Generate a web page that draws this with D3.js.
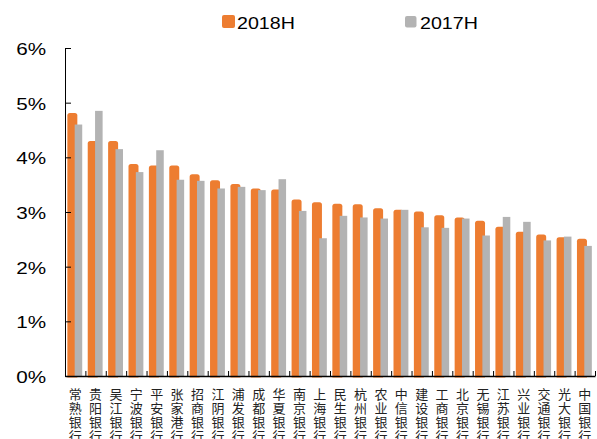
<!DOCTYPE html>
<html lang="zh">
<head>
  <meta charset="UTF-8">
  <title>银行指标 2018H vs 2017H</title>
  <script src="https://d3js.org/d3.v7.min.js"></script>
  <style>
    body { margin: 0; background: #fff; }
  </style>
</head>
<body>
<script>
  // categories and values (%)
  const banks = ["常熟银行", "贵阳银行", "吴江银行", "宁波银行", "平安银行", "张家港行", "招商银行",
    "江阴银行", "浦发银行", "成都银行", "华夏银行", "南京银行", "上海银行", "民生银行", "杭州银行",
    "农业银行", "中信银行", "建设银行", "工商银行", "北京银行", "无锡银行", "江苏银行", "兴业银行",
    "交通银行", "光大银行", "中国银行"];
  const v2018 = [4.81, 4.30, 4.30, 3.88, 3.85, 3.85, 3.69, 3.58, 3.51, 3.43, 3.41, 3.23, 3.18,
    3.15, 3.14, 3.07, 3.04, 3.01, 2.94, 2.90, 2.84, 2.73, 2.64, 2.59, 2.54, 2.51];
  const v2017 = [4.60, 4.85, 4.15, 3.73, 4.13, 3.59, 3.57, 3.43, 3.46, 3.40, 3.60, 3.02, 2.52,
    2.93, 2.90, 2.88, 3.04, 2.72, 2.71, 2.88, 2.57, 2.91, 2.82, 2.48, 2.55, 2.38];
  const yTicks = [0, 1, 2, 3, 4, 5, 6];
  const seriesNames = ["2018H", "2017H"];

  const W = 597, H = 439;
  const orange = "#ED7D31", grey = "#B3B3B3";
  const margin = { left: 65, right: 595, top: 48, bottom: 376 };

  const svg = d3.select("body").append("svg")
    .attr("width", W)
    .attr("height", H);

  const x = d3.scaleBand().domain(banks).range([margin.left, margin.right]).paddingInner(0).paddingOuter(0);
  const y = d3.scaleLinear().domain([0, 6]).range([margin.bottom, margin.top]);
  const bw = x.bandwidth();

  // bars: orange first, grey overlapping on top
  svg.append("g").selectAll("path")
    .data(banks)
    .enter().append("path")
    .attr("fill", orange)
    .attr("d", (d, i) => {
      const x0 = x(d) + bw * 0.115, w = bw * 0.49, r = 2.5;
      const y0 = y(v2018[i]), y1 = margin.bottom + 1.5;
      return `M${x0},${y1}V${y0 + r}Q${x0},${y0} ${x0 + r},${y0}H${x0 + w - r}Q${x0 + w},${y0} ${x0 + w},${y0 + r}V${y1}Z`;
    });

  svg.append("g").selectAll("rect")
    .data(banks)
    .enter().append("rect")
    .attr("x", d => x(d) + bw * 0.475)
    .attr("width", bw * 0.37)
    .attr("y", (d, i) => y(v2017[i]))
    .attr("height", (d, i) => margin.bottom - y(v2017[i]))
    .attr("fill", grey);

  // y axis, ticks pointing inward
  const yAxis = svg.append("g")
    .attr("transform", "translate(" + margin.left + ",0)")
    .call(d3.axisLeft(y).tickValues(yTicks).tickFormat(d => d + "%").tickSizeInner(-6).tickSizeOuter(0).tickPadding(19));
  yAxis.select(".domain").attr("stroke", "#000");
  yAxis.selectAll(".tick line").attr("stroke", "#000");
  yAxis.selectAll(".tick text")
    .attr("font-family", "'Liberation Sans', Arial, sans-serif")
    .attr("font-size", 16.8)
    .attr("fill", "#000")
    .attr("x", -19 / 1.23)
    .attr("dy", "0.38em")
    .attr("transform", "scale(1.23,1)");

  // x axis with boundary ticks pointing up
  const xi = d3.scaleLinear().domain([0, banks.length]).range([margin.left, margin.right]);
  const xAxis = svg.append("g")
    .attr("transform", "translate(0," + margin.bottom + ")")
    .call(d3.axisBottom(xi).tickValues(d3.range(banks.length + 1)).tickFormat("").tickSizeInner(-5).tickSizeOuter(0));
  xAxis.select(".domain").attr("stroke", "#000").attr("stroke-width", 1.3);
  xAxis.selectAll(".tick line").attr("stroke", "#000");

  // vertical category labels
  const lab = svg.append("g").selectAll("text")
    .data(banks)
    .enter().append("text")
    .attr("font-family", "'Noto Sans CJK SC', sans-serif")
    .attr("font-size", 13)
    .attr("fill", "#222")
    .attr("text-anchor", "middle");
  lab.each(function(d) {
    const t = d3.select(this);
    const cx = x(d) + bw / 2;
    Array.from(d).forEach((ch, k) => {
      t.append("tspan")
        .attr("x", cx)
        .attr("y", 393 + k * 14)
        .attr("dominant-baseline", "central")
        .text(ch);
    });
  });

  // legend
  const legend = [
    { name: seriesNames[0], color: orange, sx: 222, sy: 15, s: 13, tx: 237 },
    { name: seriesNames[1], color: grey, sx: 405, sy: 16, s: 11.5, tx: 420 }
  ];
  const lg = svg.append("g").selectAll("g")
    .data(legend)
    .enter().append("g");
  lg.append("rect")
    .attr("x", d => d.sx)
    .attr("y", d => d.sy)
    .attr("width", d => d.s)
    .attr("height", d => d.s)
    .attr("rx", 2)
    .attr("fill", d => d.color);
  lg.append("text")
    .attr("transform", d => "translate(" + d.tx + ",28.5) scale(1.19,1)")
    .attr("font-family", "'Liberation Sans', Arial, sans-serif")
    .attr("font-size", 16.5)
    .attr("fill", "#000")
    .text(d => d.name);
</script>
</body>
</html>
